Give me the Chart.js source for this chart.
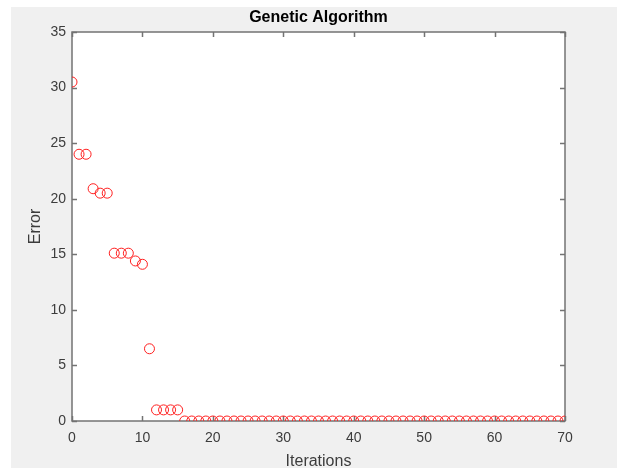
<!DOCTYPE html>
<html>
<head>
<meta charset="utf-8">
<script src="https://cdn.jsdelivr.net/npm/chart.js@4/dist/chart.umd.min.js"></script>
<style>
  html, body { margin: 0; padding: 0; background: #ffffff; }
  #wrap { position: absolute; left: 0; top: 0; width: 617px; height: 468px; }
</style>
</head>
<body>
<div id="wrap"><canvas id="c" width="617" height="468"></canvas></div>
<script>
// ---- data ----
const titleText = "Genetic Algorithm";
const xLabel = "Iterations";
const yLabel = "Error";
const iterations = [];
for (let i = 0; i <= 70; i++) iterations.push(i);
const errorValues = [
  30.5, 24.0, 24.0, 20.9, 20.5, 20.5, 15.1, 15.1, 15.1, 14.4,
  14.1, 6.5, 1.0, 1.0, 1.0, 1.0, 0, 0, 0, 0,
  0, 0, 0, 0, 0, 0, 0, 0, 0, 0,
  0, 0, 0, 0, 0, 0, 0, 0, 0, 0,
  0, 0, 0, 0, 0, 0, 0, 0, 0, 0,
  0, 0, 0, 0, 0, 0, 0, 0, 0, 0,
  0, 0, 0, 0, 0, 0, 0, 0, 0, 0,
  0
];
const xTicks = [0, 10, 20, 30, 40, 50, 60, 70];
const yTicks = [0, 5, 10, 15, 20, 25, 30, 35];

const points = iterations.map((x, i) => ({ x: x, y: errorValues[i] }));

const FONT = "'Liberation Sans', Arial, Helvetica, sans-serif";
const AXIS_COLOR = '#737373';
const TEXT_COLOR = '#3c3c3c';

const bgPlugin = {
  id: 'bgPlugin',
  beforeDraw(chart) {
    const ctx = chart.ctx;
    const a = chart.chartArea;
    ctx.save();
    ctx.fillStyle = '#ffffff';
    ctx.fillRect(0, 0, chart.width, chart.height);
    ctx.fillStyle = '#f0f0f0';
    ctx.fillRect(11, 7, chart.width - 11, chart.height - 7);
    ctx.fillStyle = '#ffffff';
    ctx.fillRect(a.left, a.top, a.right - a.left, a.bottom - a.top);
    ctx.restore();
  }
};

const boxPlugin = {
  id: 'boxPlugin',
  beforeDatasetsDraw(chart) {
    const ctx = chart.ctx;
    const a = chart.chartArea;
    const xs = chart.scales.x, ys = chart.scales.y;
    const L = 5;
    ctx.save();
    ctx.strokeStyle = AXIS_COLOR;
    ctx.lineWidth = 1.5;
    ctx.beginPath();
    xTicks.forEach(v => {
      const px = Math.round(xs.getPixelForValue(v)) + 0.5;
      ctx.moveTo(px, a.bottom); ctx.lineTo(px, a.bottom - L);
      ctx.moveTo(px, a.top); ctx.lineTo(px, a.top + L);
    });
    yTicks.forEach(v => {
      const py = Math.round(ys.getPixelForValue(v)) + 0.5;
      ctx.moveTo(a.left, py); ctx.lineTo(a.left + L, py);
      ctx.moveTo(a.right, py); ctx.lineTo(a.right - L, py);
    });
    ctx.stroke();
    ctx.strokeRect(a.left, a.top, a.right - a.left, a.bottom - a.top);
    ctx.restore();
  }
};

new Chart(document.getElementById('c'), {
  type: 'scatter',
  data: {
    datasets: [{
      label: yLabel,
      data: points,
      showLine: false,
      pointStyle: 'circle',
      pointRadius: 5,
      pointHoverRadius: 5,
      pointBorderWidth: 1,
      pointBackgroundColor: 'rgba(0,0,0,0)',
      pointBorderColor: '#ff2020'
    }]
  },
  options: {
    responsive: false,
    animation: false,
    devicePixelRatio: 1,
    layout: { padding: { left: 20, right: 0, top: 0, bottom: 0 } },
    plugins: {
      legend: { display: false },
      tooltip: { enabled: false },
      title: {
        display: true,
        text: titleText,
        color: '#000000',
        font: { family: FONT, size: 16, weight: 'bold', lineHeight: 1.2 },
        padding: { top: 8, bottom: 4.8 }
      }
    },
    scales: {
      x: {
        type: 'linear',
        min: 0, max: 70,
        afterBuildTicks(scale) { scale.ticks = xTicks.map(v => ({ value: v })); },
        afterFit(scale) { scale.height = 47; },
        grid: { display: false, drawTicks: false },
        border: { display: false },
        ticks: { color: TEXT_COLOR, font: { family: FONT, size: 14 }, padding: 9, maxRotation: 0 },
        title: { display: true, text: xLabel, color: TEXT_COLOR, font: { family: FONT, size: 16, lineHeight: 0.8 }, padding: { top: 0, bottom: 0 } }
      },
      y: {
        type: 'linear',
        position: 'left',
        min: 0, max: 35,
        afterBuildTicks(scale) { scale.ticks = yTicks.map(v => ({ value: v })); },
        afterFit(scale) { scale.width = 52; },
        grid: { display: false, drawTicks: false },
        border: { display: false },
        ticks: { color: TEXT_COLOR, font: { family: FONT, size: 14 }, padding: 6 },
        title: { display: true, text: yLabel, color: TEXT_COLOR, font: { family: FONT, size: 16, lineHeight: 1 }, padding: { top: 8, bottom: 0 } }
      },
      yRight: {
        type: 'linear',
        position: 'right',
        min: 0, max: 35,
        afterFit(scale) { scale.width = 52; },
        grid: { display: false, drawTicks: false },
        border: { display: false },
        ticks: { display: false }
      }
    }
  },
  plugins: [bgPlugin, boxPlugin]
});
</script>
</body>
</html>
